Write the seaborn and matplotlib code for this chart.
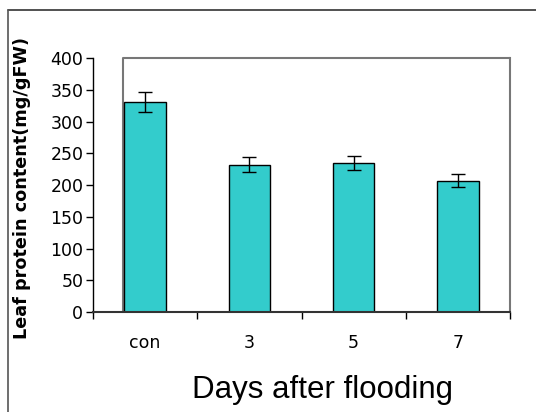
import pandas as pd
import matplotlib.pyplot as plt
import seaborn as sns
from matplotlib.lines import Line2D

# Data
days = ["con", "3", "5", "7"]
protein = [331, 232, 235, 207]
protein_err = [16, 12, 11, 10]

data = pd.DataFrame({"day": days, "protein": protein, "err": protein_err})

sns.set_style("white")
plt.rcParams['font.family'] = ['DejaVu Sans']
plt.rcParams['text.color'] = 'black'
plt.rcParams['axes.labelcolor'] = 'black'
plt.rcParams['xtick.color'] = 'black'
plt.rcParams['ytick.color'] = 'black'

fig = plt.figure(figsize=(5.36, 4.12), dpi=100)
ax = fig.add_axes([0.1735, 0.2427, 0.778, 0.6165])

bar_w = 0.4
sns.barplot(data=data, x="day", y="protein", color="#33CCCC", width=bar_w,
            edgecolor="black", linewidth=1, saturation=1, ax=ax, errorbar=None)
ax.errorbar(range(len(days)), data["protein"], yerr=data["err"], fmt="none",
            ecolor="black", elinewidth=1, capsize=5, capthick=1)

# y axis
ax.set_ylim(0, 400)
ax.set_yticks(range(0, 401, 50))
ax.tick_params(axis="y", direction="out", length=5, width=1, color="black",
               labelsize=12.5, pad=2, left=True)

# x axis: ticks between categories
ax.set_xlim(-0.5, len(days) - 0.5)
ax.set_xticks(range(len(days)))
ax.set_xticklabels(days)
ax.set_xticks([i - 0.5 for i in range(len(days) + 1)], minor=True)
ax.tick_params(axis="x", which="major", length=0, labelsize=12.5, pad=16)
ax.tick_params(axis="x", which="minor", direction="out", length=5, width=1,
               color="black", bottom=True)

# spines / plot area frame
for side in ["left", "bottom", "top", "right"]:
    ax.spines[side].set_visible(True)
ax.spines["left"].set_color("black")
ax.spines["left"].set_linewidth(1)
ax.spines["bottom"].set_color("#333333")
ax.spines["bottom"].set_linewidth(1.5)
ax.spines["top"].set_visible(False)
ax.spines["right"].set_color("#777777")
ax.spines["right"].set_linewidth(1.5)
frame_x = -bar_w / 2 - 0.015
ax.plot([frame_x, frame_x, len(days) - 0.5], [0, 400, 400], color="#777777",
        lw=1.5, clip_on=False, zorder=0.5)

ax.set_ylabel("Leaf protein content(mg/gFW)", fontsize=12.7, fontweight="bold")
ax.yaxis.set_label_coords(-0.149, 0.49)
ax.set_xlabel("Days after flooding", fontsize=22.5,
              family=['Liberation Sans', 'DejaVu Sans'])
ax.xaxis.set_label_coords(0.55, -0.247)

# outer chart border
fig.add_artist(Line2D([0.015, 1.0], [0.976, 0.976], color="#333333", lw=1.2))
fig.add_artist(Line2D([0.015, 0.015], [0.0, 0.976], color="#555555", lw=1.2))

fig.savefig("out.png", dpi=100)
